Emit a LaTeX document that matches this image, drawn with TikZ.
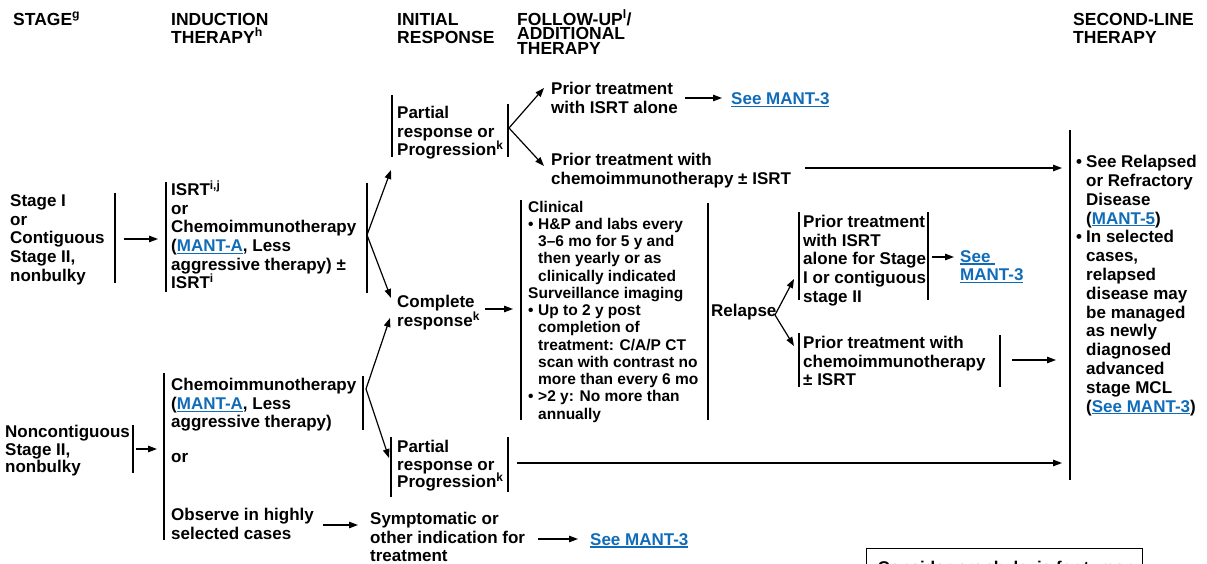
\documentclass[tikz,border=0pt]{standalone}
\usepackage{fontspec}
\setmainfont{Liberation Sans}
\usetikzlibrary{arrows.meta}
\definecolor{lnkblue}{RGB}{16,108,184}
\newcommand\fl{\rule{0pt}{16pt}}
\newcommand\nolsk{\lineskiplimit=-100pt\relax}
\newcommand\lnk[1]{\begingroup\color{lnkblue}\setbox0\hbox{#1}\rlap{\rule[-2.3pt]{\wd0}{1.1pt}}\box0\endgroup}
\newcommand\bul{\makebox[10pt][l]{\textbullet}}
\newcommand\ind{\hspace*{10pt}}
\newcommand\fnt[2]{\bfseries\fontsize{#1}{#2}\selectfont\nolsk}
\begin{document}
\begin{tikzpicture}[x=1pt,y=-1pt,
  txt/.style={anchor=north west, inner sep=0pt, align=left, font={\fnt{17}{18.6}}},
  hdr/.style={txt, font={\fnt{17.5}{18}}},
  small/.style={txt, font={\fnt{15.5}{17.25}}},
  bar/.style={line width=1.3pt},
  arr/.style={line width=1.2pt, -{Triangle[length=9pt,width=6.5pt]}},
]
\useasboundingbox (0,0) rectangle (1207,564);

% ---------- headers
\node[hdr] (hStage) at (13,9) {\fl STAGE\textsuperscript{g}};
\node[hdr] (hInd) at (171,9) {\fl INDUCTION\\THERAPY\textsuperscript{h}};
\node[hdr] (hInit) at (397,9) {\fl INITIAL\\RESPONSE};
\node[hdr, font={\fnt{17.5}{14.5}}] (hFU) at (517,9) {\fl FOLLOW-UP\textsuperscript{l}/\\ADDITIONAL\\THERAPY};
\node[hdr] (hSL) at (1073,9) {\fl SECOND-LINE\\THERAPY};

% ---------- upper branch
\node[txt] (s1) at (10,190.5) {\fl Stage I\\or\\Contiguous\\Stage II,\\nonbulky};
\node[txt] (i1) at (171,179.5) {\fl ISRT\textsuperscript{i,j}\\or\\Chemoimmunotherapy\\(\lnk{MANT-A}, Less\\aggressive therapy) ±\\ISRT\textsuperscript{i}};
\node[txt] (pr1) at (397,102.5) {\fl Partial\\response or\\Progression\textsuperscript{k}};
\node[txt] (pt1) at (551,78.5) {\fl Prior treatment\\with ISRT alone};
\node[txt] (see1) at (731,88.5) {\fl\lnk{See MANT-3}};
\node[txt] (pt2) at (551,149.5) {\fl Prior treatment with\\chemoimmunotherapy ± ISRT};
\node[txt] (cr) at (397,291.5) {\fl Complete\\response\textsuperscript{k}};
\node[small] (clin) at (528,196) {\fl Clinical\\
\bul H\&P and labs every\\
\ind 3–6 mo for 5 y and\\
\ind then yearly or as\\
\ind clinically indicated\\
Surveillance imaging\\
\bul Up to 2 y post\\
\ind completion of\\
\ind treatment: C/A/P CT\\
\ind scan with contrast no\\
\ind more than every 6 mo\\
\bul >2 y: No more than\\
\ind annually};
\node[txt] (rel) at (711,300) {\fl Relapse};
\node[txt] (ru) at (803,211.5) {\fl Prior treatment\\with ISRT\\alone for Stage\\I or contiguous\\stage II};
\node[txt] (see2) at (960,246) {\fl\lnk{See }\\\lnk{MANT-3}};
\node[txt] (rl) at (803,332.5) {\fl Prior treatment with\\chemoimmunotherapy\\± ISRT};
\node[txt, font={\fnt{17}{18.8}}] (sl) at (1076,151.5) {\fl\bul See Relapsed\\\ind or Refractory\\\ind Disease\\\ind (\lnk{MANT-5})\\\bul In selected\\\ind cases,\\\ind relapsed\\\ind disease may\\\ind be managed\\\ind as newly\\\ind diagnosed\\\ind advanced\\\ind stage MCL\\\ind (\lnk{See MANT-3})};

% ---------- lower branch
\node[txt, font={\fnt{17}{17.5}}] (s2) at (5,421.5) {\fl Noncontiguous\\Stage II,\\nonbulky};
\node[txt] (i2a) at (171,374.5) {\fl Chemoimmunotherapy\\(\lnk{MANT-A}, Less\\aggressive therapy)};
\node[txt] (i2or) at (171,446.5) {\fl or};
\node[txt] (i2b) at (171,504.5) {\fl Observe in highly\\selected cases};
\node[txt, font={\fnt{17}{17.5}}] (pr2) at (397,436.5) {\fl Partial\\response or\\Progression\textsuperscript{k}};
\node[txt] (sym) at (370,508.5) {\fl Symptomatic or\\other indication for\\treatment};
\node[txt] (see3) at (590,529) {\fl\lnk{See MANT-3}};
\node[draw, line width=1.3pt, anchor=north west, inner xsep=9pt, inner ysep=6pt,
  minimum width=276pt, minimum height=70pt, align=left,
  font={\fnt{17}{18.6}}] (box) at (866,548)
  {\fl Consider prophylaxis for tumor\\ \\ };

% ---------- bars
\draw[bar] (115,193) -- (115,283);
\draw[bar] (166,182) -- (166,292);
\draw[bar] (367,183) -- (367,293);
\draw[bar] (392,95) -- (392,157);
\draw[bar] (508,104) -- (508,157);
\draw[bar] (521,200) -- (521,420);
\draw[bar] (708,203) -- (708,420);
\draw[bar] (799,212) -- (799,300);
\draw[bar] (928,212) -- (928,300);
\draw[bar] (799,333) -- (799,387);
\draw[bar] (1000,335) -- (1000,387);
\draw[bar] (1070,130) -- (1070,480);
\draw[bar] (133,425) -- (133,473);
\draw[bar] (164,373) -- (164,540);
\draw[bar] (363,376) -- (363,430);
\draw[bar] (391,437) -- (391,497);
\draw[bar] (508,437) -- (508,492);

% ---------- named connector points
\coordinate (s1r) at (124,239);
\coordinate (i1l) at (158,239);
\coordinate (i1f) at (367,235);
\coordinate (pr1in) at (391,170);
\coordinate (crin) at (391,298);
\coordinate (pr1f) at (509,128);
\coordinate (pt1in) at (544,88);
\coordinate (pt2in) at (544,166);
\coordinate (pt1out) at (685,98);
\coordinate (see1in) at (722,98);
\coordinate (pt2out) at (805,168);
\coordinate (slin1) at (1062,168);
\coordinate (crout) at (485,309);
\coordinate (clinin) at (513,309);
\coordinate (relf) at (775,315);
\coordinate (ruin) at (794,279);
\coordinate (rlin) at (794,346);
\coordinate (ruout) at (932,257);
\coordinate (see2in) at (954,257);
\coordinate (rlout) at (1012,360);
\coordinate (slin2) at (1056,360);
\coordinate (s2r) at (136,449);
\coordinate (i2l) at (157,449);
\coordinate (i2f) at (366,389);
\coordinate (cr2in) at (390,318);
\coordinate (pr2in) at (389,458);
\coordinate (pr2out) at (517,463);
\coordinate (slin3) at (1062,463);
\coordinate (obsout) at (323,525);
\coordinate (symin) at (358,525);
\coordinate (symout) at (538,539);
\coordinate (see3in) at (578,539);

% ---------- connectors
\draw[arr] (s1r) -- (i1l);
\draw[arr] (i1f) -- (pr1in);
\draw[arr] (i1f) -- (crin);
\draw[arr] (pr1f) -- (pt1in);
\draw[arr] (pr1f) -- (pt2in);
\draw[arr] (pt1out) -- (see1in);
\draw[arr] (pt2out) -- (slin1);
\draw[arr] (crout) -- (clinin);
\draw[arr] (relf) -- (ruin);
\draw[arr] (relf) -- (rlin);
\draw[arr] (ruout) -- (see2in);
\draw[arr] (rlout) -- (slin2);
\draw[arr] (s2r) -- (i2l);
\draw[arr] (i2f) -- (cr2in);
\draw[arr] (i2f) -- (pr2in);
\draw[arr] (pr2out) -- (slin3);
\draw[arr] (obsout) -- (symin);
\draw[arr] (symout) -- (see3in);
\end{tikzpicture}
\end{document}
